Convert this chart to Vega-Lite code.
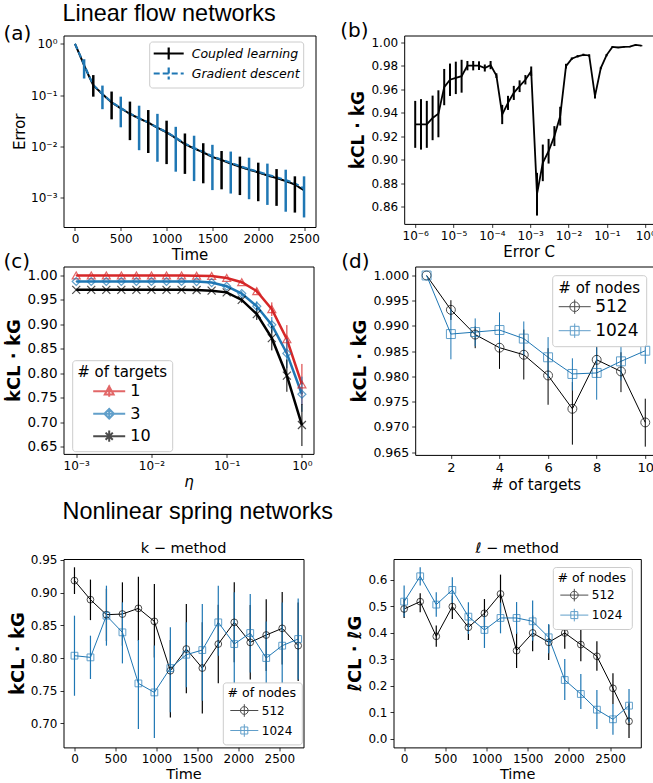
{
"$schema": "https://vega.github.io/schema/vega-lite/v6.json",
"padding": {"left": 2.5, "top": 1.5, "right": 0, "bottom": 0},
"spacing": 5.5,
"resolve": {"scale": {"color": "independent", "shape": "independent", "strokeDash": "independent"}},
"title": {"text": "Linear flow networks", "anchor": "start", "frame": "group", "font": "Liberation Sans", "fontSize": 23.4, "offset": 0, "dx": -1, "dy": 6},
"config": {
  "font": "DejaVu Sans",
  "view": {"stroke": "black", "strokeWidth": 1},
  "axis": {"domain": false, "grid": false, "tickColor": "black", "tickSize": 3.5, "tickWidth": 0.8, "tickCount": 20, "labelColor": "black", "labelFont": "DejaVu Sans", "labelFontSize": 12, "labelPadding": 3, "labelFlush": false, "labelOverlap": false, "titleColor": "black", "titleFont": "DejaVu Sans", "titleFontWeight": "normal", "titleFontSize": 15, "titlePadding": 3},
  "title": {"color": "black", "fontWeight": "normal", "font": "DejaVu Sans"},
  "legend": {"titleFont": "DejaVu Sans", "labelFont": "DejaVu Sans", "titleFontWeight": "normal", "labelColor": "black", "titleColor": "black", "strokeColor": "#cccccc", "fillColor": "white", "cornerRadius": 3}
},
"datasets": {
  "aLine": [
    {"t":0,"v":1.0,"m":"Coupled learning"},{"t":50,"v":0.62,"m":"Coupled learning"},{"t":100,"v":0.38,"m":"Coupled learning"},{"t":150,"v":0.24,"m":"Coupled learning"},{"t":200,"v":0.155,"m":"Coupled learning"},{"t":300,"v":0.104,"m":"Coupled learning"},{"t":400,"v":0.072,"m":"Coupled learning"},{"t":500,"v":0.055,"m":"Coupled learning"},{"t":600,"v":0.043,"m":"Coupled learning"},{"t":700,"v":0.035,"m":"Coupled learning"},{"t":800,"v":0.029,"m":"Coupled learning"},{"t":900,"v":0.023,"m":"Coupled learning"},{"t":1000,"v":0.0187,"m":"Coupled learning"},{"t":1100,"v":0.0145,"m":"Coupled learning"},{"t":1200,"v":0.011,"m":"Coupled learning"},{"t":1300,"v":0.0091,"m":"Coupled learning"},{"t":1400,"v":0.0076,"m":"Coupled learning"},{"t":1500,"v":0.0062,"m":"Coupled learning"},{"t":1600,"v":0.0054,"m":"Coupled learning"},{"t":1700,"v":0.0046,"m":"Coupled learning"},{"t":1800,"v":0.0040,"m":"Coupled learning"},{"t":1900,"v":0.0035,"m":"Coupled learning"},{"t":2000,"v":0.0031,"m":"Coupled learning"},{"t":2100,"v":0.0027,"m":"Coupled learning"},{"t":2200,"v":0.0024,"m":"Coupled learning"},{"t":2300,"v":0.0021,"m":"Coupled learning"},{"t":2400,"v":0.0018,"m":"Coupled learning"},{"t":2500,"v":0.00138,"m":"Coupled learning"},
    {"t":0,"v":1.0,"m":"Gradient descent"},{"t":50,"v":0.63,"m":"Gradient descent"},{"t":100,"v":0.39,"m":"Gradient descent"},{"t":150,"v":0.245,"m":"Gradient descent"},{"t":200,"v":0.157,"m":"Gradient descent"},{"t":300,"v":0.105,"m":"Gradient descent"},{"t":400,"v":0.073,"m":"Gradient descent"},{"t":500,"v":0.056,"m":"Gradient descent"},{"t":600,"v":0.0435,"m":"Gradient descent"},{"t":700,"v":0.0355,"m":"Gradient descent"},{"t":800,"v":0.0292,"m":"Gradient descent"},{"t":900,"v":0.0233,"m":"Gradient descent"},{"t":1000,"v":0.019,"m":"Gradient descent"},{"t":1100,"v":0.0148,"m":"Gradient descent"},{"t":1200,"v":0.0113,"m":"Gradient descent"},{"t":1300,"v":0.0093,"m":"Gradient descent"},{"t":1400,"v":0.0078,"m":"Gradient descent"},{"t":1500,"v":0.0064,"m":"Gradient descent"},{"t":1600,"v":0.0055,"m":"Gradient descent"},{"t":1700,"v":0.0048,"m":"Gradient descent"},{"t":1800,"v":0.0041,"m":"Gradient descent"},{"t":1900,"v":0.0036,"m":"Gradient descent"},{"t":2000,"v":0.0032,"m":"Gradient descent"},{"t":2100,"v":0.0028,"m":"Gradient descent"},{"t":2200,"v":0.0025,"m":"Gradient descent"},{"t":2300,"v":0.0022,"m":"Gradient descent"},{"t":2400,"v":0.0019,"m":"Gradient descent"},{"t":2500,"v":0.0015,"m":"Gradient descent"}
  ],
  "aBar": [
    {"t":200,"lo":0.093,"hi":0.245,"m":"Coupled learning"},{"t":400,"lo":0.0336,"hi":0.117,"m":"Coupled learning"},{"t":600,"lo":0.0132,"hi":0.0745,"m":"Coupled learning"},{"t":800,"lo":0.0074,"hi":0.051,"m":"Coupled learning"},{"t":1000,"lo":0.0045,"hi":0.0316,"m":"Coupled learning"},{"t":1200,"lo":0.0029,"hi":0.0178,"m":"Coupled learning"},{"t":1400,"lo":0.0019,"hi":0.0115,"m":"Coupled learning"},{"t":1600,"lo":0.00145,"hi":0.0081,"m":"Coupled learning"},{"t":1800,"lo":0.00112,"hi":0.0063,"m":"Coupled learning"},{"t":2000,"lo":0.00085,"hi":0.0048,"m":"Coupled learning"},{"t":2200,"lo":0.00069,"hi":0.0036,"m":"Coupled learning"},{"t":2400,"lo":0.00051,"hi":0.0026,"m":"Coupled learning"},
    {"t":100,"lo":0.21,"hi":0.5,"m":"Gradient descent"},{"t":300,"lo":0.053,"hi":0.153,"m":"Gradient descent"},{"t":500,"lo":0.0235,"hi":0.093,"m":"Gradient descent"},{"t":700,"lo":0.0084,"hi":0.062,"m":"Gradient descent"},{"t":900,"lo":0.005,"hi":0.043,"m":"Gradient descent"},{"t":1100,"lo":0.0032,"hi":0.024,"m":"Gradient descent"},{"t":1300,"lo":0.0021,"hi":0.0161,"m":"Gradient descent"},{"t":1500,"lo":0.0014,"hi":0.0107,"m":"Gradient descent"},{"t":1700,"lo":0.0012,"hi":0.0079,"m":"Gradient descent"},{"t":1900,"lo":0.00093,"hi":0.006,"m":"Gradient descent"},{"t":2100,"lo":0.00072,"hi":0.0046,"m":"Gradient descent"},{"t":2300,"lo":0.00053,"hi":0.0035,"m":"Gradient descent"},{"t":2500,"lo":0.00041,"hi":0.0026,"m":"Gradient descent"}
  ],
  "bData": [
    {"x":1.0e-6,"y":0.930,"lo":0.910,"hi":0.950},{"x":1.4166e-6,"y":0.930,"lo":0.9085,"hi":0.9515},{"x":2.007e-6,"y":0.930,"lo":0.910,"hi":0.950},{"x":2.843e-6,"y":0.9355,"lo":0.9165,"hi":0.9545},{"x":4.028e-6,"y":0.939,"lo":0.919,"hi":0.959},{"x":5.708e-6,"y":0.9617,"lo":0.9463,"hi":0.9772},{"x":8.088e-6,"y":0.968,"lo":0.9542,"hi":0.9818},{"x":1.1459e-5,"y":0.9696,"lo":0.9558,"hi":0.9834},{"x":1.623e-5,"y":0.971,"lo":0.957,"hi":0.985},{"x":2.300e-5,"y":0.980,"lo":0.976,"hi":0.984},
    {"x":3.258e-5,"y":0.980,"lo":0.976,"hi":0.984},{"x":4.616e-5,"y":0.980,"lo":0.9763,"hi":0.9837},{"x":6.540e-5,"y":0.978,"lo":0.975,"hi":0.981},{"x":9.267e-5,"y":0.9805,"lo":0.977,"hi":0.984},{"x":1.313e-4,"y":0.9715,"lo":0.9695,"hi":0.9735},{"x":1.860e-4,"y":0.9384,"lo":0.9302,"hi":0.9466},{"x":2.635e-4,"y":0.9483,"lo":0.9423,"hi":0.9543},{"x":3.734e-4,"y":0.9568,"lo":0.9508,"hi":0.9628},{"x":5.289e-4,"y":0.9625,"lo":0.9575,"hi":0.9675},{"x":7.494e-4,"y":0.968,"lo":0.964,"hi":0.972},
    {"x":1.062e-3,"y":0.9753,"lo":0.9713,"hi":0.9793},{"x":1.504e-3,"y":0.8705,"lo":0.8523,"hi":0.8887},{"x":2.131e-3,"y":0.8972,"lo":0.8816,"hi":0.9128},{"x":3.019e-3,"y":0.9071,"lo":0.8966,"hi":0.9176},{"x":4.278e-3,"y":0.920,"lo":0.9115,"hi":0.9285},{"x":6.061e-3,"y":0.937,"lo":0.929,"hi":0.945},{"x":8.588e-3,"y":0.9796,"lo":0.9776,"hi":0.9816},{"x":1.217e-2,"y":0.986,"lo":0.985,"hi":0.987},{"x":1.724e-2,"y":0.988,"lo":0.987,"hi":0.989},{"x":2.442e-2,"y":0.9892,"lo":0.9882,"hi":0.9902},
    {"x":3.459e-2,"y":0.9887,"lo":0.9877,"hi":0.9897},{"x":4.901e-2,"y":0.954,"lo":0.952,"hi":0.956},{"x":6.944e-2,"y":0.978,"lo":0.977,"hi":0.979},{"x":9.838e-2,"y":0.989,"lo":0.988,"hi":0.990},{"x":0.1394,"y":0.996,"lo":0.9955,"hi":0.9965},{"x":0.1975,"y":0.9955,"lo":0.995,"hi":0.996},{"x":0.2798,"y":0.996,"lo":0.9955,"hi":0.9965},{"x":0.3964,"y":0.9962,"lo":0.9957,"hi":0.9967},{"x":0.5616,"y":0.9977,"lo":0.9972,"hi":0.9982},{"x":0.7955,"y":0.997,"lo":0.9965,"hi":0.9975}
  ],
  "cData": [
    {"eta":0.001,"v":1.0,"lo":0.999,"hi":1.001,"n":"1"},{"eta":0.0015849,"v":1.0,"lo":0.999,"hi":1.001,"n":"1"},{"eta":0.0025119,"v":1.0,"lo":0.999,"hi":1.001,"n":"1"},{"eta":0.0039811,"v":1.0,"lo":0.999,"hi":1.001,"n":"1"},{"eta":0.0063096,"v":1.0,"lo":0.999,"hi":1.001,"n":"1"},{"eta":0.01,"v":1.0,"lo":0.999,"hi":1.001,"n":"1"},{"eta":0.015849,"v":1.0,"lo":0.999,"hi":1.001,"n":"1"},{"eta":0.025119,"v":1.0,"lo":0.999,"hi":1.001,"n":"1"},{"eta":0.039811,"v":0.9995,"lo":0.9985,"hi":1.0005,"n":"1"},{"eta":0.063096,"v":0.999,"lo":0.998,"hi":1.0,"n":"1"},{"eta":0.1,"v":0.995,"lo":0.993,"hi":0.997,"n":"1"},{"eta":0.15849,"v":0.9863,"lo":0.9833,"hi":0.9893,"n":"1"},{"eta":0.25119,"v":0.968,"lo":0.963,"hi":0.973,"n":"1"},{"eta":0.39811,"v":0.931,"lo":0.917,"hi":0.945,"n":"1"},{"eta":0.63096,"v":0.8695,"lo":0.8405,"hi":0.8985,"n":"1"},{"eta":1.0,"v":0.777,"lo":0.735,"hi":0.819,"n":"1"},
    {"eta":0.001,"v":0.9877,"lo":0.9867,"hi":0.9887,"n":"3"},{"eta":0.0015849,"v":0.9877,"lo":0.9867,"hi":0.9887,"n":"3"},{"eta":0.0025119,"v":0.9877,"lo":0.9867,"hi":0.9887,"n":"3"},{"eta":0.0039811,"v":0.9877,"lo":0.9867,"hi":0.9887,"n":"3"},{"eta":0.0063096,"v":0.9877,"lo":0.9867,"hi":0.9887,"n":"3"},{"eta":0.01,"v":0.9877,"lo":0.9867,"hi":0.9887,"n":"3"},{"eta":0.015849,"v":0.9877,"lo":0.9867,"hi":0.9887,"n":"3"},{"eta":0.025119,"v":0.9877,"lo":0.9867,"hi":0.9887,"n":"3"},{"eta":0.039811,"v":0.9875,"lo":0.9865,"hi":0.9885,"n":"3"},{"eta":0.063096,"v":0.9855,"lo":0.9845,"hi":0.9865,"n":"3"},{"eta":0.1,"v":0.978,"lo":0.975,"hi":0.981,"n":"3"},{"eta":0.15849,"v":0.963,"lo":0.958,"hi":0.968,"n":"3"},{"eta":0.25119,"v":0.937,"lo":0.927,"hi":0.947,"n":"3"},{"eta":0.39811,"v":0.899,"lo":0.883,"hi":0.915,"n":"3"},{"eta":0.63096,"v":0.8405,"lo":0.8105,"hi":0.8705,"n":"3"},{"eta":1.0,"v":0.757,"lo":0.721,"hi":0.793,"n":"3"},
    {"eta":0.001,"v":0.9706,"lo":0.9696,"hi":0.9716,"n":"10"},{"eta":0.0015849,"v":0.9706,"lo":0.9696,"hi":0.9716,"n":"10"},{"eta":0.0025119,"v":0.9706,"lo":0.9696,"hi":0.9716,"n":"10"},{"eta":0.0039811,"v":0.9706,"lo":0.9696,"hi":0.9716,"n":"10"},{"eta":0.0063096,"v":0.9706,"lo":0.9696,"hi":0.9716,"n":"10"},{"eta":0.01,"v":0.9706,"lo":0.9696,"hi":0.9716,"n":"10"},{"eta":0.015849,"v":0.9706,"lo":0.9696,"hi":0.9716,"n":"10"},{"eta":0.025119,"v":0.9706,"lo":0.9696,"hi":0.9716,"n":"10"},{"eta":0.039811,"v":0.9703,"lo":0.9693,"hi":0.9713,"n":"10"},{"eta":0.063096,"v":0.969,"lo":0.968,"hi":0.970,"n":"10"},{"eta":0.1,"v":0.9655,"lo":0.9625,"hi":0.9685,"n":"10"},{"eta":0.15849,"v":0.950,"lo":0.944,"hi":0.956,"n":"10"},{"eta":0.25119,"v":0.921,"lo":0.909,"hi":0.933,"n":"10"},{"eta":0.39811,"v":0.8717,"lo":0.8467,"hi":0.8967,"n":"10"},{"eta":0.63096,"v":0.795,"lo":0.762,"hi":0.828,"n":"10"},{"eta":1.0,"v":0.694,"lo":0.651,"hi":0.737,"n":"10"}
  ],
  "dData": [
    {"tg":1,"v":1.0,"lo":1.0,"hi":1.0,"n":"512"},{"tg":2,"v":0.9932,"lo":0.9912,"hi":0.9951,"n":"512"},{"tg":3,"v":0.9883,"lo":0.9856,"hi":0.9899,"n":"512"},{"tg":4,"v":0.9857,"lo":0.9815,"hi":0.9893,"n":"512"},{"tg":5,"v":0.9843,"lo":0.9794,"hi":0.9893,"n":"512"},{"tg":6,"v":0.9802,"lo":0.9744,"hi":0.9856,"n":"512"},{"tg":7,"v":0.9736,"lo":0.9665,"hi":0.9789,"n":"512"},{"tg":8,"v":0.9833,"lo":0.9797,"hi":0.9869,"n":"512"},{"tg":9,"v":0.981,"lo":0.9769,"hi":0.9848,"n":"512"},{"tg":10,"v":0.9709,"lo":0.9661,"hi":0.9756,"n":"512"},
    {"tg":1,"v":1.0,"lo":1.0,"hi":1.0,"n":"1024"},{"tg":2,"v":0.9884,"lo":0.9834,"hi":0.9934,"n":"1024"},{"tg":3,"v":0.9888,"lo":0.986,"hi":0.9915,"n":"1024"},{"tg":4,"v":0.9892,"lo":0.9855,"hi":0.9927,"n":"1024"},{"tg":5,"v":0.9875,"lo":0.9842,"hi":0.9909,"n":"1024"},{"tg":6,"v":0.9838,"lo":0.9797,"hi":0.9878,"n":"1024"},{"tg":7,"v":0.9805,"lo":0.9772,"hi":0.9836,"n":"1024"},{"tg":8,"v":0.9807,"lo":0.9754,"hi":0.9858,"n":"1024"},{"tg":9,"v":0.983,"lo":0.9792,"hi":0.9865,"n":"1024"},{"tg":10,"v":0.9851,"lo":0.9825,"hi":0.9875,"n":"1024"}
  ],
  "eData": [
    {"t":0,"v":0.9184,"lo":0.898,"hi":0.9388,"n":"512"},{"t":195,"v":0.8893,"lo":0.858,"hi":0.92,"n":"512"},{"t":390,"v":0.8663,"lo":0.826,"hi":0.906,"n":"512"},{"t":585,"v":0.8673,"lo":0.8189,"hi":0.9158,"n":"512"},{"t":780,"v":0.876,"lo":0.8265,"hi":0.9245,"n":"512"},{"t":975,"v":0.8561,"lo":0.801,"hi":0.9133,"n":"512"},{"t":1170,"v":0.7806,"lo":0.7092,"hi":0.8276,"n":"512"},{"t":1365,"v":0.8138,"lo":0.746,"hi":0.8827,"n":"512"},{"t":1560,"v":0.7847,"lo":0.7153,"hi":0.8546,"n":"512"},{"t":1755,"v":0.8214,"lo":0.7614,"hi":0.8814,"n":"512"},{"t":1950,"v":0.8546,"lo":0.7934,"hi":0.9158,"n":"512"},{"t":2145,"v":0.824,"lo":0.767,"hi":0.881,"n":"512"},{"t":2340,"v":0.8352,"lo":0.78,"hi":0.89,"n":"512"},{"t":2535,"v":0.8454,"lo":0.79,"hi":0.901,"n":"512"},{"t":2730,"v":0.8189,"lo":0.765,"hi":0.885,"n":"512"},
    {"t":0,"v":0.8036,"lo":0.7423,"hi":0.8648,"n":"1024"},{"t":195,"v":0.801,"lo":0.7679,"hi":0.8342,"n":"1024"},{"t":390,"v":0.8648,"lo":0.8189,"hi":0.9107,"n":"1024"},{"t":585,"v":0.8393,"lo":0.7918,"hi":0.8852,"n":"1024"},{"t":780,"v":0.7612,"lo":0.6913,"hi":0.8276,"n":"1024"},{"t":975,"v":0.7474,"lo":0.6775,"hi":0.819,"n":"1024"},{"t":1170,"v":0.7847,"lo":0.717,"hi":0.847,"n":"1024"},{"t":1365,"v":0.8051,"lo":0.7555,"hi":0.8546,"n":"1024"},{"t":1560,"v":0.8122,"lo":0.7347,"hi":0.8827,"n":"1024"},{"t":1755,"v":0.8546,"lo":0.8036,"hi":0.9107,"n":"1024"},{"t":1950,"v":0.8214,"lo":0.7551,"hi":0.9005,"n":"1024"},{"t":2145,"v":0.8383,"lo":0.778,"hi":0.898,"n":"1024"},{"t":2340,"v":0.80,"lo":0.744,"hi":0.856,"n":"1024"},{"t":2535,"v":0.8189,"lo":0.753,"hi":0.885,"n":"1024"},{"t":2730,"v":0.8291,"lo":0.767,"hi":0.891,"n":"1024"}
  ],
  "fData": [
    {"t":0,"v":0.4906,"lo":0.4566,"hi":0.528,"n":"512"},{"t":195,"v":0.5182,"lo":0.478,"hi":0.5497,"n":"512"},{"t":390,"v":0.3874,"lo":0.3484,"hi":0.4277,"n":"512"},{"t":585,"v":0.4994,"lo":0.4528,"hi":0.541,"n":"512"},{"t":780,"v":0.4214,"lo":0.3736,"hi":0.4654,"n":"512"},{"t":975,"v":0.4742,"lo":0.4214,"hi":0.528,"n":"512"},{"t":1170,"v":0.5472,"lo":0.4742,"hi":0.6201,"n":"512"},{"t":1365,"v":0.3333,"lo":0.2679,"hi":0.4025,"n":"512"},{"t":1560,"v":0.40,"lo":0.3308,"hi":0.4654,"n":"512"},{"t":1755,"v":0.3648,"lo":0.2981,"hi":0.4302,"n":"512"},{"t":1950,"v":0.40,"lo":0.34,"hi":0.46,"n":"512"},{"t":2145,"v":0.356,"lo":0.2931,"hi":0.4189,"n":"512"},{"t":2340,"v":0.312,"lo":0.2579,"hi":0.3686,"n":"512"},{"t":2535,"v":0.1912,"lo":0.1321,"hi":0.2478,"n":"512"},{"t":2730,"v":0.0667,"lo":0.0038,"hi":0.1346,"n":"512"},
    {"t":0,"v":0.5182,"lo":0.4616,"hi":0.5786,"n":"1024"},{"t":195,"v":0.6138,"lo":0.5786,"hi":0.6478,"n":"1024"},{"t":390,"v":0.5069,"lo":0.4616,"hi":0.5535,"n":"1024"},{"t":585,"v":0.5623,"lo":0.512,"hi":0.61,"n":"1024"},{"t":780,"v":0.4616,"lo":0.3962,"hi":0.5157,"n":"1024"},{"t":975,"v":0.4113,"lo":0.3434,"hi":0.4654,"n":"1024"},{"t":1170,"v":0.4566,"lo":0.3986,"hi":0.5146,"n":"1024"},{"t":1365,"v":0.4566,"lo":0.3966,"hi":0.5166,"n":"1024"},{"t":1560,"v":0.444,"lo":0.371,"hi":0.522,"n":"1024"},{"t":1755,"v":0.3836,"lo":0.3233,"hi":0.434,"n":"1024"},{"t":1950,"v":0.2226,"lo":0.1472,"hi":0.3019,"n":"1024"},{"t":2145,"v":0.1698,"lo":0.1132,"hi":0.2453,"n":"1024"},{"t":2340,"v":0.1107,"lo":0.0377,"hi":0.1849,"n":"1024"},{"t":2535,"v":0.0742,"lo":0.0164,"hi":0.1321,"n":"1024"},{"t":2730,"v":0.1258,"lo":0.0629,"hi":0.1887,"n":"1024"}
  ]
},
"vconcat": [
 {
  "spacing": -13,
  "resolve": {"scale": {"color": "independent", "shape": "independent", "strokeDash": "independent"}},
  "vconcat": [
   {
    "bounds": "flush",
    "spacing": 88.7,
    "resolve": {"scale": {"color": "independent", "shape": "independent", "strokeDash": "independent"}},
    "hconcat": [
      {
        "width": 252, "height": 191.5,
        "title": {"text": "(a)", "anchor": "start", "frame": "group", "dx": -60, "dy": 8, "offset": 0, "fontSize": 20},
        "layer": [
          {"data": {"name": "aLine"},
           "mark": {"type": "line", "strokeWidth": 2},
           "encoding": {
             "x": {"field": "t", "type": "quantitative", "scale": {"domain": [-125, 2625], "nice": false, "zero": false}, "axis": {"values": [0,500,1000,1500,2000,2500], "tickCount": 20, "format": "d", "title": "Time"}},
             "y": {"field": "v", "type": "quantitative", "scale": {"type": "log", "domain": [0.000267, 1.45], "nice": false}, "axis": {"values": [0.001,0.01,0.1,1], "tickCount": 20, "labelExpr": "'10' + ['⁰','⁻¹','⁻²','⁻³','⁻⁴','⁻⁵','⁻⁶'][-round(log(datum.value)/LN10)]", "title": "Error"}},
             "color": {"field": "m", "type": "nominal", "scale": {"domain": ["Coupled learning","Gradient descent"], "range": ["black","#1f77b4"]},
               "legend": {"orient": "none", "legendX": 85.7, "legendY": 6, "title": null, "symbolType": "M-2,0H2M0,-0.8V0.8", "symbolSize": 225, "symbolOffset": 7.5, "symbolStrokeWidth": 2.2, "labelFontSize": 12.5, "labelFontStyle": "italic", "labelOffset": 14, "rowPadding": -3, "padding": 3}},
             "strokeDash": {"field": "m", "type": "nominal", "scale": {"domain": ["Coupled learning","Gradient descent"], "range": [[1,0],[6,3]]},
               "legend": {"orient": "none", "legendX": 85.7, "legendY": 6, "title": null, "symbolType": "M-2,0H2M0,-0.8V0.8", "symbolSize": 225, "symbolOffset": 7.5, "symbolStrokeWidth": 2.2, "labelFontSize": 12.5, "labelFontStyle": "italic", "labelOffset": 14, "rowPadding": -3, "padding": 3}}
           }},
          {"data": {"name": "aBar"},
           "mark": {"type": "rule", "strokeWidth": 2.5},
           "encoding": {
             "x": {"field": "t", "type": "quantitative"},
             "y": {"field": "lo", "type": "quantitative"},
             "y2": {"field": "hi"},
             "color": {"field": "m", "type": "nominal",
               "legend": {"orient": "none", "legendX": 85.7, "legendY": 6, "title": null, "symbolType": "M-2,0H2M0,-0.8V0.8", "symbolSize": 225, "symbolOffset": 7.5, "symbolStrokeWidth": 2.2, "labelFontSize": 12.5, "labelFontStyle": "italic", "labelOffset": 14, "rowPadding": -3, "padding": 3}}
           }}
        ]
      },
      {
        "width": 249, "height": 188.4,
        "title": {"text": "(b)", "anchor": "start", "frame": "group", "dx": -64, "dy": 5, "offset": 0, "fontSize": 20},
        "data": {"name": "bData"},
        "layer": [
          {"mark": {"type": "line", "color": "black", "strokeWidth": 1.8},
           "encoding": {
             "x": {"field": "x", "type": "quantitative", "scale": {"type": "log", "domain": [5.16e-7, 1.618], "nice": false}, "axis": {"values": [1e-6,1e-5,1e-4,1e-3,1e-2,1e-1,1], "tickCount": 20, "labelExpr": "'10' + ['⁰','⁻¹','⁻²','⁻³','⁻⁴','⁻⁵','⁻⁶'][-round(log(datum.value)/LN10)]", "title": "Error C"}},
             "y": {"field": "y", "type": "quantitative", "scale": {"domain": [0.8452, 1.0057], "nice": false, "zero": false}, "axis": {"values": [0.86,0.88,0.90,0.92,0.94,0.96,0.98,1.0], "tickCount": 20, "format": ".2f", "title": "k̇CL · k̇G", "titleFontWeight": "bold", "titleFontSize": 17}}
           }},
          {"mark": {"type": "rule", "color": "black", "strokeWidth": 2},
           "encoding": {
             "x": {"field": "x", "type": "quantitative"},
             "y": {"field": "lo", "type": "quantitative"},
             "y2": {"field": "hi"}
           }}
        ]
      }
    ]
   },
   {
    "bounds": "flush",
    "spacing": 101.7,
    "resolve": {"scale": {"color": "independent", "shape": "independent", "strokeDash": "independent"}},
    "hconcat": [
      {
        "width": 250, "height": 187.4,
        "title": {"text": "(c)", "anchor": "start", "frame": "group", "dx": -60, "dy": 5, "offset": 0, "fontSize": 20},
        "data": {"name": "cData"},
        "layer": [
          {"mark": {"type": "line", "strokeWidth": 2.5},
           "encoding": {
             "x": {"field": "eta", "type": "quantitative", "scale": {"type": "log", "domain": [0.0006776, 1.4256], "nice": false}, "axis": {"values": [0.001,0.01,0.1,1], "tickCount": 20, "labelExpr": "'10' + ['⁰','⁻¹','⁻²','⁻³','⁻⁴','⁻⁵','⁻⁶'][-round(log(datum.value)/LN10)]", "title": "η", "titleFontStyle": "italic"}},
             "y": {"field": "v", "type": "quantitative", "scale": {"domain": [0.6349, 1.0184], "nice": false, "zero": false}, "axis": {"values": [0.65,0.70,0.75,0.80,0.85,0.90,0.95,1.0], "tickCount": 20, "format": ".2f", "labelFontSize": 13.5, "title": "k̇CL · k̇G", "titleFontWeight": "bold", "titleFontSize": 18}},
             "color": {"field": "n", "type": "nominal", "scale": {"domain": ["1","3","10"], "range": ["#d62728","#1f77b4","black"]},
               "legend": {"orient": "none", "legendX": 8.7, "legendY": 93.7, "title": "# of targets", "titleFontSize": 15, "titleAnchor": "middle", "labelFontSize": 16, "symbolSize": 256, "symbolOffset": 6, "symbolStrokeWidth": 2, "labelOffset": 12, "rowPadding": 2.5, "padding": 5, "titlePadding": 2}}
           }},
          {"mark": {"type": "rule", "strokeWidth": 1},
           "encoding": {
             "x": {"field": "eta", "type": "quantitative"},
             "y": {"field": "lo", "type": "quantitative"},
             "y2": {"field": "hi"},
             "color": {"field": "n", "type": "nominal",
               "legend": {"orient": "none", "legendX": 8.7, "legendY": 93.7, "title": "# of targets", "titleFontSize": 15, "titleAnchor": "middle", "labelFontSize": 16, "symbolSize": 256, "symbolOffset": 6, "symbolStrokeWidth": 2, "labelOffset": 12, "rowPadding": 2.5, "padding": 5, "titlePadding": 2}}
           }},
          {"transform": [{"filter": "datum.n === '1'"}],
           "mark": {"type": "point", "filled": false, "size": 64, "strokeWidth": 1.2, "shape": "triangle-up"},
           "encoding": {
             "x": {"field": "eta", "type": "quantitative"},
             "y": {"field": "v", "type": "quantitative"},
             "color": {"field": "n", "type": "nominal",
               "legend": {"orient": "none", "legendX": 8.7, "legendY": 93.7, "title": "# of targets", "titleFontSize": 15, "titleAnchor": "middle", "labelFontSize": 16, "symbolSize": 256, "symbolOffset": 6, "symbolStrokeWidth": 2, "labelOffset": 12, "rowPadding": 2.5, "padding": 5, "titlePadding": 2}}
           }},
          {"transform": [{"filter": "datum.n === '3'"}],
           "mark": {"type": "point", "filled": false, "size": 64, "strokeWidth": 1.2, "shape": "diamond"},
           "encoding": {
             "x": {"field": "eta", "type": "quantitative"},
             "y": {"field": "v", "type": "quantitative"},
             "color": {"field": "n", "type": "nominal",
               "legend": {"orient": "none", "legendX": 8.7, "legendY": 93.7, "title": "# of targets", "titleFontSize": 15, "titleAnchor": "middle", "labelFontSize": 16, "symbolSize": 256, "symbolOffset": 6, "symbolStrokeWidth": 2, "labelOffset": 12, "rowPadding": 2.5, "padding": 5, "titlePadding": 2}}
           }},
          {"transform": [{"filter": "datum.n === '10'"}],
           "mark": {"type": "point", "filled": false, "size": 64, "strokeWidth": 1.2, "shape": "M-1,-1L1,1M-1,1L1,-1"},
           "encoding": {
             "x": {"field": "eta", "type": "quantitative"},
             "y": {"field": "v", "type": "quantitative"},
             "color": {"field": "n", "type": "nominal",
               "legend": {"orient": "none", "legendX": 8.7, "legendY": 93.7, "title": "# of targets", "titleFontSize": 15, "titleAnchor": "middle", "labelFontSize": 16, "symbolSize": 256, "symbolOffset": 6, "symbolStrokeWidth": 2, "labelOffset": 12, "rowPadding": 2.5, "padding": 5, "titlePadding": 2}}
           }},
          {"transform": [{"filter": "false"}],
           "mark": {"type": "point", "filled": false},
           "encoding": {
             "color": {"field": "n", "type": "nominal",
               "legend": {"orient": "none", "legendX": 8.7, "legendY": 93.7, "title": "# of targets", "titleFontSize": 15, "titleAnchor": "middle", "labelFontSize": 16, "symbolSize": 256, "symbolOffset": 6, "symbolStrokeWidth": 2, "labelOffset": 12, "rowPadding": 2.5, "padding": 5, "titlePadding": 2}},
             "shape": {"field": "n", "type": "nominal", "scale": {"domain": ["1","3","10"], "range": ["M-2,0H2M0,-0.7V0.7M0,-0.6L0.55,0.4L-0.55,0.4Z", "M-2,0H2M0,-0.7V0.7M0,-0.6L0.6,0L0,0.6L-0.6,0Z", "M-2,0H2M0,-0.7V0.7M-0.45,-0.45L0.45,0.45M-0.45,0.45L0.45,-0.45"]},
               "legend": {"orient": "none", "legendX": 8.7, "legendY": 93.7, "title": "# of targets", "titleFontSize": 15, "titleAnchor": "middle", "labelFontSize": 16, "symbolSize": 256, "symbolOffset": 6, "symbolStrokeWidth": 2, "labelOffset": 12, "rowPadding": 2.5, "padding": 5, "titlePadding": 2}}
           }}
        ]
      },
      {
        "width": 241, "height": 188.4,
        "title": {"text": "(d)", "anchor": "start", "frame": "group", "dx": -74, "dy": 5, "offset": 0, "fontSize": 20},
        "data": {"name": "dData"},
        "layer": [
          {"mark": {"type": "line", "strokeWidth": 1},
           "encoding": {
             "x": {"field": "tg", "type": "quantitative", "scale": {"domain": [0.531, 10.45], "nice": false, "zero": false}, "axis": {"values": [2,4,6,8,10], "tickCount": 20, "format": "d", "title": "# of targets", "labelFontSize": 13}},
             "y": {"field": "v", "type": "quantitative", "scale": {"domain": [0.96447, 1.00178], "nice": false, "zero": false}, "axis": {"values": [0.965,0.97,0.975,0.98,0.985,0.99,0.995,1.0], "tickCount": 20, "format": ".3f", "labelFontSize": 12.5, "title": "k̇CL · k̇G", "titleFontWeight": "bold", "titleFontSize": 18}},
             "color": {"field": "n", "type": "nominal", "scale": {"domain": ["512","1024"], "range": ["black","#1f77b4"]},
               "legend": {"orient": "none", "legendX": 137, "legendY": 8.7, "title": "# of nodes", "titleFontSize": 15, "titleAnchor": "middle", "labelFontSize": 17, "symbolSize": 256, "symbolOffset": 6, "symbolStrokeWidth": 1, "labelOffset": 12, "rowPadding": 5, "padding": 6, "titlePadding": 2}}
           }},
          {"mark": {"type": "rule", "strokeWidth": 1},
           "encoding": {
             "x": {"field": "tg", "type": "quantitative"},
             "y": {"field": "lo", "type": "quantitative"},
             "y2": {"field": "hi"},
             "color": {"field": "n", "type": "nominal",
               "legend": {"orient": "none", "legendX": 137, "legendY": 8.7, "title": "# of nodes", "titleFontSize": 15, "titleAnchor": "middle", "labelFontSize": 17, "symbolSize": 256, "symbolOffset": 6, "symbolStrokeWidth": 1, "labelOffset": 12, "rowPadding": 5, "padding": 6, "titlePadding": 2}}
           }},
          {"transform": [{"filter": "datum.n === '512'"}],
           "mark": {"type": "point", "filled": false, "size": 80, "strokeWidth": 1, "shape": "circle"},
           "encoding": {
             "x": {"field": "tg", "type": "quantitative"},
             "y": {"field": "v", "type": "quantitative"},
             "color": {"field": "n", "type": "nominal",
               "legend": {"orient": "none", "legendX": 137, "legendY": 8.7, "title": "# of nodes", "titleFontSize": 15, "titleAnchor": "middle", "labelFontSize": 17, "symbolSize": 256, "symbolOffset": 6, "symbolStrokeWidth": 1, "labelOffset": 12, "rowPadding": 5, "padding": 6, "titlePadding": 2}}
           }},
          {"transform": [{"filter": "datum.n === '1024'"}],
           "mark": {"type": "point", "filled": false, "size": 80, "strokeWidth": 1, "shape": "square"},
           "encoding": {
             "x": {"field": "tg", "type": "quantitative"},
             "y": {"field": "v", "type": "quantitative"},
             "color": {"field": "n", "type": "nominal",
               "legend": {"orient": "none", "legendX": 137, "legendY": 8.7, "title": "# of nodes", "titleFontSize": 15, "titleAnchor": "middle", "labelFontSize": 17, "symbolSize": 256, "symbolOffset": 6, "symbolStrokeWidth": 1, "labelOffset": 12, "rowPadding": 5, "padding": 6, "titlePadding": 2}}
           }},
          {"transform": [{"filter": "false"}],
           "mark": {"type": "point", "filled": false},
           "encoding": {
             "color": {"field": "n", "type": "nominal",
               "legend": {"orient": "none", "legendX": 137, "legendY": 8.7, "title": "# of nodes", "titleFontSize": 15, "titleAnchor": "middle", "labelFontSize": 17, "symbolSize": 256, "symbolOffset": 6, "symbolStrokeWidth": 1, "labelOffset": 12, "rowPadding": 5, "padding": 6, "titlePadding": 2}},
             "shape": {"field": "n", "type": "nominal", "scale": {"domain": ["512","1024"], "range": ["M-2,0H2M0,-0.9V0.9M0.6,0A0.6,0.6 0 1,1 -0.6,0A0.6,0.6 0 1,1 0.6,0Z", "M-2,0H2M0,-0.9V0.9M-0.55,-0.55H0.55V0.55H-0.55Z"]},
               "legend": {"orient": "none", "legendX": 137, "legendY": 8.7, "title": "# of nodes", "titleFontSize": 15, "titleAnchor": "middle", "labelFontSize": 17, "symbolSize": 256, "symbolOffset": 6, "symbolStrokeWidth": 1, "labelOffset": 12, "rowPadding": 5, "padding": 6, "titlePadding": 2}}
           }}
        ]
      }
    ]
   }
  ]
 },
 {
  "bounds": "flush",
  "spacing": 90,
  "resolve": {"scale": {"color": "independent", "shape": "independent", "strokeDash": "independent"}},
  "title": {"text": "Nonlinear spring networks", "anchor": "start", "frame": "group", "font": "Liberation Sans", "fontSize": 23.4, "offset": 15.8, "dx": -1},
  "hconcat": [
      {
        "width": 240, "height": 188.4,
        "title": {"text": "k − method", "fontSize": 14.5, "offset": -3},
        "data": {"name": "eData"},
        "layer": [
          {"mark": {"type": "line", "strokeWidth": 1},
           "encoding": {
             "x": {"field": "t", "type": "quantitative", "scale": {"domain": [-134, 2795], "nice": false, "zero": false}, "axis": {"values": [0,500,1000,1500,2000,2500], "tickCount": 20, "format": "d", "title": "Time", "titleFontSize": 14.5}},
             "y": {"field": "v", "type": "quantitative", "scale": {"domain": [0.6633, 0.9515], "nice": false, "zero": false}, "axis": {"values": [0.70,0.75,0.80,0.85,0.90,0.95], "tickCount": 20, "format": ".2f", "title": "k̇CL · k̇G", "titleFontWeight": "bold", "titleFontSize": 18}},
             "color": {"field": "n", "type": "nominal", "scale": {"domain": ["512","1024"], "range": ["black","#1f77b4"]},
               "legend": {"orient": "none", "legendX": 159.3, "legendY": 123.4, "title": "# of nodes", "titleFontSize": 12.6, "titleAnchor": "middle", "labelFontSize": 12, "symbolSize": 196, "symbolOffset": 6, "symbolStrokeWidth": 1, "labelOffset": 10, "rowPadding": 3, "padding": 5, "titlePadding": 3}}
           }},
          {"mark": {"type": "rule", "strokeWidth": 1.2},
           "encoding": {
             "x": {"field": "t", "type": "quantitative"},
             "y": {"field": "lo", "type": "quantitative"},
             "y2": {"field": "hi"},
             "color": {"field": "n", "type": "nominal",
               "legend": {"orient": "none", "legendX": 159.3, "legendY": 123.4, "title": "# of nodes", "titleFontSize": 12.6, "titleAnchor": "middle", "labelFontSize": 12, "symbolSize": 196, "symbolOffset": 6, "symbolStrokeWidth": 1, "labelOffset": 10, "rowPadding": 3, "padding": 5, "titlePadding": 3}}
           }},
          {"transform": [{"filter": "datum.n === '512'"}],
           "mark": {"type": "point", "filled": false, "size": 46, "strokeWidth": 1, "shape": "circle"},
           "encoding": {
             "x": {"field": "t", "type": "quantitative"},
             "y": {"field": "v", "type": "quantitative"},
             "color": {"field": "n", "type": "nominal",
               "legend": {"orient": "none", "legendX": 159.3, "legendY": 123.4, "title": "# of nodes", "titleFontSize": 12.6, "titleAnchor": "middle", "labelFontSize": 12, "symbolSize": 196, "symbolOffset": 6, "symbolStrokeWidth": 1, "labelOffset": 10, "rowPadding": 3, "padding": 5, "titlePadding": 3}}
           }},
          {"transform": [{"filter": "datum.n === '1024'"}],
           "mark": {"type": "point", "filled": false, "size": 46, "strokeWidth": 1, "shape": "square"},
           "encoding": {
             "x": {"field": "t", "type": "quantitative"},
             "y": {"field": "v", "type": "quantitative"},
             "color": {"field": "n", "type": "nominal",
               "legend": {"orient": "none", "legendX": 159.3, "legendY": 123.4, "title": "# of nodes", "titleFontSize": 12.6, "titleAnchor": "middle", "labelFontSize": 12, "symbolSize": 196, "symbolOffset": 6, "symbolStrokeWidth": 1, "labelOffset": 10, "rowPadding": 3, "padding": 5, "titlePadding": 3}}
           }},
          {"transform": [{"filter": "false"}],
           "mark": {"type": "point", "filled": false},
           "encoding": {
             "color": {"field": "n", "type": "nominal",
               "legend": {"orient": "none", "legendX": 159.3, "legendY": 123.4, "title": "# of nodes", "titleFontSize": 12.6, "titleAnchor": "middle", "labelFontSize": 12, "symbolSize": 196, "symbolOffset": 6, "symbolStrokeWidth": 1, "labelOffset": 10, "rowPadding": 3, "padding": 5, "titlePadding": 3}},
             "shape": {"field": "n", "type": "nominal", "scale": {"domain": ["512","1024"], "range": ["M-2,0H2M0,-0.9V0.9M0.55,0A0.55,0.55 0 1,1 -0.55,0A0.55,0.55 0 1,1 0.55,0Z", "M-2,0H2M0,-0.9V0.9M-0.5,-0.5H0.5V0.5H-0.5Z"]},
               "legend": {"orient": "none", "legendX": 159.3, "legendY": 123.4, "title": "# of nodes", "titleFontSize": 12.6, "titleAnchor": "middle", "labelFontSize": 12, "symbolSize": 196, "symbolOffset": 6, "symbolStrokeWidth": 1, "labelOffset": 10, "rowPadding": 3, "padding": 5, "titlePadding": 3}}
           }}
        ]
      },
      {
        "width": 247.3, "height": 188.4,
        "title": {"text": "ℓ − method", "fontSize": 14.5, "offset": 3},
        "data": {"name": "fData"},
        "layer": [
          {"mark": {"type": "line", "strokeWidth": 1},
           "encoding": {
             "x": {"field": "t", "type": "quantitative", "scale": {"domain": [-129, 2873], "nice": false, "zero": false}, "axis": {"values": [0,500,1000,1500,2000,2500], "tickCount": 20, "format": "d", "title": "Time", "titleFontSize": 14.5}},
             "y": {"field": "v", "type": "quantitative", "scale": {"domain": [-0.0317, 0.679], "nice": false, "zero": false}, "axis": {"values": [0,0.1,0.2,0.3,0.4,0.5,0.6], "tickCount": 20, "format": ".1f", "title": "ℓ̇CL · ℓ̇G", "titleFontWeight": "bold", "titleFontSize": 18}},
             "color": {"field": "n", "type": "nominal", "scale": {"domain": ["512","1024"], "range": ["black","#1f77b4"]},
               "legend": {"orient": "none", "legendX": 159.3, "legendY": 8, "title": "# of nodes", "titleFontSize": 12.6, "titleAnchor": "middle", "labelFontSize": 12, "symbolSize": 196, "symbolOffset": 6, "symbolStrokeWidth": 1, "labelOffset": 10, "rowPadding": 3, "padding": 5, "titlePadding": 3}}
           }},
          {"mark": {"type": "rule", "strokeWidth": 1.2},
           "encoding": {
             "x": {"field": "t", "type": "quantitative"},
             "y": {"field": "lo", "type": "quantitative"},
             "y2": {"field": "hi"},
             "color": {"field": "n", "type": "nominal",
               "legend": {"orient": "none", "legendX": 159.3, "legendY": 8, "title": "# of nodes", "titleFontSize": 12.6, "titleAnchor": "middle", "labelFontSize": 12, "symbolSize": 196, "symbolOffset": 6, "symbolStrokeWidth": 1, "labelOffset": 10, "rowPadding": 3, "padding": 5, "titlePadding": 3}}
           }},
          {"transform": [{"filter": "datum.n === '512'"}],
           "mark": {"type": "point", "filled": false, "size": 46, "strokeWidth": 1, "shape": "circle"},
           "encoding": {
             "x": {"field": "t", "type": "quantitative"},
             "y": {"field": "v", "type": "quantitative"},
             "color": {"field": "n", "type": "nominal",
               "legend": {"orient": "none", "legendX": 159.3, "legendY": 8, "title": "# of nodes", "titleFontSize": 12.6, "titleAnchor": "middle", "labelFontSize": 12, "symbolSize": 196, "symbolOffset": 6, "symbolStrokeWidth": 1, "labelOffset": 10, "rowPadding": 3, "padding": 5, "titlePadding": 3}}
           }},
          {"transform": [{"filter": "datum.n === '1024'"}],
           "mark": {"type": "point", "filled": false, "size": 46, "strokeWidth": 1, "shape": "square"},
           "encoding": {
             "x": {"field": "t", "type": "quantitative"},
             "y": {"field": "v", "type": "quantitative"},
             "color": {"field": "n", "type": "nominal",
               "legend": {"orient": "none", "legendX": 159.3, "legendY": 8, "title": "# of nodes", "titleFontSize": 12.6, "titleAnchor": "middle", "labelFontSize": 12, "symbolSize": 196, "symbolOffset": 6, "symbolStrokeWidth": 1, "labelOffset": 10, "rowPadding": 3, "padding": 5, "titlePadding": 3}}
           }},
          {"transform": [{"filter": "false"}],
           "mark": {"type": "point", "filled": false},
           "encoding": {
             "color": {"field": "n", "type": "nominal",
               "legend": {"orient": "none", "legendX": 159.3, "legendY": 8, "title": "# of nodes", "titleFontSize": 12.6, "titleAnchor": "middle", "labelFontSize": 12, "symbolSize": 196, "symbolOffset": 6, "symbolStrokeWidth": 1, "labelOffset": 10, "rowPadding": 3, "padding": 5, "titlePadding": 3}},
             "shape": {"field": "n", "type": "nominal", "scale": {"domain": ["512","1024"], "range": ["M-2,0H2M0,-0.9V0.9M0.55,0A0.55,0.55 0 1,1 -0.55,0A0.55,0.55 0 1,1 0.55,0Z", "M-2,0H2M0,-0.9V0.9M-0.5,-0.5H0.5V0.5H-0.5Z"]},
               "legend": {"orient": "none", "legendX": 159.3, "legendY": 8, "title": "# of nodes", "titleFontSize": 12.6, "titleAnchor": "middle", "labelFontSize": 12, "symbolSize": 196, "symbolOffset": 6, "symbolStrokeWidth": 1, "labelOffset": 10, "rowPadding": 3, "padding": 5, "titlePadding": 3}}
           }}
        ]
      }
  ]
 }
]
}
